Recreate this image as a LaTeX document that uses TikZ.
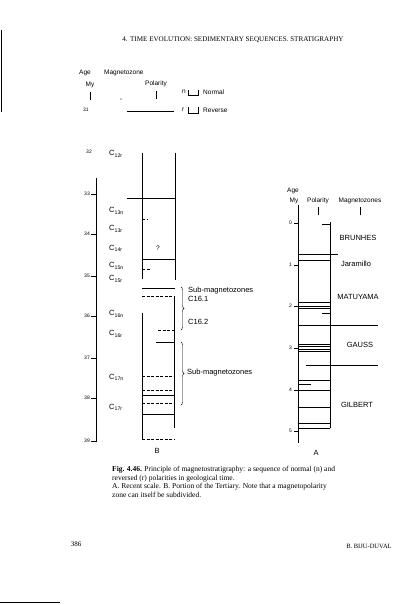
\documentclass[tikz,border=0pt]{standalone}
\usepackage{fontspec}
\setmainfont{Liberation Serif}
\setsansfont{Liberation Sans}
\usetikzlibrary{decorations.pathreplacing}

\newcommand{\magzone}[1]{C\textsubscript{#1}}

\tikzset{
  lbl/.style={font=\sffamily\fontsize{6.5}{7}\selectfont, inner sep=0pt},
  agelbl/.style={font=\sffamily\fontsize{5}{6}\selectfont, inner sep=0pt},
  zonelbl/.style={font=\sffamily\fontsize{7.5}{8}\selectfont, inner sep=0pt},
  polline/.style={line width=0.6pt},
  dashln/.style={line width=0.5pt, dash pattern=on 3pt off 1.5pt},
  brc/.style={decorate, decoration={brace, amplitude=3pt}, line width=0.4pt},
}

\begin{document}
\begin{tikzpicture}[x=1pt,y=-1pt]
    \useasboundingbox (0,0) rectangle (414,605);
    % running head
    \node[font=\fontsize{7.1}{8}\selectfont, inner sep=0pt] (head) at (233,40)
        {4. TIME EVOLUTION: SEDIMENTARY SEQUENCES. STRATIGRAPHY};
    \draw[line width=1pt] (1,30) -- (1,112);

    % legend
    \node[lbl] (lage) at (85,73) {Age};
    \node[lbl, anchor=west] (lmz) at (104,73) {Magnetozone};
    \node[lbl] (lmy) at (90,85) {My};
    \node[lbl] (lpol) at (156,84) {Polarity};
    \draw (lmy.south) ++(0,4) -- ++(0,8);
    \draw (lpol.south) ++(0,4) -- ++(0,8);
    \fill (121,99) circle[radius=0.6pt];
    \draw[polline] (127,111) -- (174,111);
    \node[agelbl] (l31) at (86,110) {31};
    \node[lbl, anchor=west] (ln) at (182,92) {n};
    \draw (188,90) -- (188,95) -- (198,95) -- (198,90);
    \node[lbl, anchor=west] (lnorm) at (203,92) {Normal};
    \node[lbl, anchor=west] (lr) at (182,110) {r};
    \draw (189,107) -- (188,107) -- (188,113) -- (198,113) -- (198,107);
    \node[lbl, anchor=west] (lrev) at (203,110) {Reverse};

    % B : portion of the Tertiary
    \draw (96,178) -- (96,442);
    \foreach \a/\yy in {33/194,34/234,35/276,36/316,37/358,38/398,39/441}{
        \draw (91,\yy) -- (96,\yy);
        \node[agelbl, anchor=east] at (90,\yy) {\a};
    }
    \node[agelbl, anchor=east] (b32) at (92,152) {32};
    \foreach \z/\yy in {12r/154,13n/211,13r/229,14r/248,15n/266,15r/279,16n/314,16r/334,17n/377,17r/407}{
        \node[zonelbl, anchor=west] at (109,\yy) {\magzone{\z}};
    }
    \draw[polline] (142,153) -- (142,279);
    \draw[polline] (175,153) -- (175,280);
    \draw[polline] (127,198) -- (176,198);
    \draw[polline] (142,259) -- (175,259);
    \draw[dashln] (142,219) -- (148,219);
    \draw[dashln] (142,269) -- (150,269);
    \node[lbl] (qmark) at (158,248) {?};
    \draw[polline] (142,288) -- (175,288);
    \draw[dashln] (142,296) -- (172,296);
    \draw[polline] (174,296) -- (174,428);
    \draw[polline] (142,313) -- (142,439);
    \draw[dashln] (158,330) -- (175,330);
    \draw[polline] (156,342) -- (175,342);
    \draw[dashln] (142,376) -- (175,376);
    \draw[dashln] (142,390) -- (175,390);
    \draw[polline] (142,395) -- (175,395);
    \draw[dashln] (142,403) -- (175,403);
    \draw[polline] (142,414) -- (175,414);
    \draw[dashln] (142,439) -- (175,439);
    \draw[brc] (181,287) -- (181,330);
    \draw[brc] (181,342) -- (181,405);
    \node[zonelbl, anchor=west] (sub1) at (188,291) {Sub-magnetozones};
    \node[zonelbl, anchor=west] (c161) at (188,299) {C16.1};
    \node[zonelbl, anchor=west] (c162) at (188,322) {C16.2};
    \node[zonelbl, anchor=west] (sub2) at (187,373) {Sub-magnetozones};
    \node[zonelbl] (labB) at (157,451) {B};

    % A : recent scale
    \node[lbl] (aage) at (293,191) {Age};
    \node[lbl] (amy) at (294,201) {My};
    \node[lbl] (apol) at (318,201) {Polarity};
    \node[lbl] (amz) at (360,201) {Magnetozones};
    \draw (318,207) -- (318,215);
    \draw (360,207) -- (360,215);
    \draw (298,205) -- (298,443);
    \foreach \a/\yy in {0/223,1/265,2/306,3/348,4/390,5/431}{
        \draw (294,\yy) -- (298,\yy);
        \node[agelbl, anchor=east] at (292,\yy) {\a};
    }
    \draw[polline] (330,222) -- (330,428);
    \draw[polline] (322,224) -- (330,224);
    \draw[polline] (298,254) -- (338,254);
    \draw[polline] (298,260) -- (330,260);
    \draw[polline] (298,302) -- (330,302);
    \draw[polline] (298,306) -- (330,306);
    \draw[polline] (298,308) -- (330,308);
    \draw[polline] (322,313) -- (330,313);
    \draw[polline] (298,325) -- (378,325);
    \foreach \yy in {344,346.5,349,351.5}{
        \draw[polline] (298,\yy) -- (330,\yy);
    }
    \draw[polline] (306,365) -- (378,365);
    \draw[polline] (298,380) -- (330,380);
    \draw[polline] (298,384) -- (311,384);
    \foreach \yy in {390,407,423,428}{
        \draw[polline] (298,\yy) -- (330,\yy);
    }
    \node[zonelbl] (brunhes) at (358,238) {BRUNHES};
    \node[zonelbl] (jaram) at (356,264) {Jaramillo};
    \node[zonelbl] (matuy) at (358,297) {MATUYAMA};
    \node[zonelbl] (gauss) at (360,345) {GAUSS};
    \node[zonelbl] (gilb) at (357,405) {GILBERT};
    \node[zonelbl] (labA) at (316,453) {A};

    % caption
    \node[font=\fontsize{7.5}{8.6}\selectfont, anchor=north west, inner sep=0pt, align=left] (capt) at (112,466)
        {\textbf{Fig. 4.46.} Principle of magnetostratigraphy: a sequence of normal (n) and\\
         reversed (r) polarities in geological time.\\
         A. Recent scale. B. Portion of the Tertiary. Note that a magnetopolarity\\
         zone can itself be subdivided.};

    % foot
    \node[font=\fontsize{7}{8}\selectfont, inner sep=0pt] (pgno) at (76,544) {386};
    \node[font=\fontsize{6.5}{7}\selectfont, inner sep=0pt] (auth) at (369,546) {B. BIJU-DUVAL};
    \draw[line width=0.8pt] (0,602) -- (60,602);
\end{tikzpicture}
\end{document}
